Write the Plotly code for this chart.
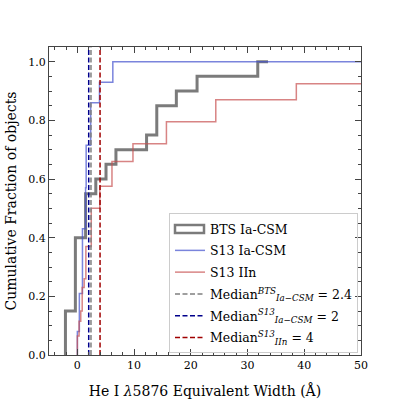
import plotly.graph_objects as go

# cumulative step curves (edge x, fraction reached at that edge)
bts_x = [-2.1, -2.1, -0.35, 1.45, 3.25, 5.05, 6.8, 12.2, 14.0, 17.45, 21.1, 31.8, 33.6]
bts_y = [0.0, 0.15, 0.40, 0.55, 0.60, 0.65, 0.70, 0.75, 0.85, 0.90, 0.95, 1.0, 1.0]

s13_ia_x = [0.0, 0.0, 0.35, 0.9, 1.45, 1.55, 2.35, 3.9, 6.25, 50.0]
s13_ia_y = [0.0, 0.08, 0.21, 0.43, 0.57, 0.715, 0.86, 0.93, 1.0, 1.0]

s13_iin_x = [0.0, 0.0, 0.3, 0.6, 0.85, 1.2, 1.5, 2.45, 3.95, 6.1, 9.8, 15.7, 24.4, 38.6, 50.0]
s13_iin_y = [0.0, 0.065, 0.115, 0.15, 0.23, 0.26, 0.37, 0.50, 0.575, 0.66, 0.72, 0.795, 0.87, 0.925, 0.925]

med_bts = 2.4
med_s13_ia = 2
med_s13_iin = 4

serif = "DejaVu Serif"
gray = "rgba(90,90,90,0.8)"

# plot area in pixels (used to place the legend and the BTS legend box)
L, R, T, B = 49, 361, 47, 355
def px(x): return (x - L) / (R - L)
def py(y): return (B - y) / (B - T)

fig = go.Figure()

fig.add_trace(go.Scatter(x=bts_x, y=bts_y, mode="lines", line_shape="hv",
                         line=dict(color=gray, width=3), showlegend=False))
# legend entry for BTS; its open-box icon is drawn as a shape below
fig.add_trace(go.Scatter(x=[None], y=[None], mode="lines", name="BTS Ia-CSM",
                         legendgroup="g0", line=dict(color="rgba(0,0,0,0)", width=1)))
fig.add_trace(go.Scatter(x=s13_ia_x, y=s13_ia_y, mode="lines", line_shape="hv",
                         line=dict(color="rgba(65,80,205,0.7)", width=1.5),
                         name="S13 Ia-CSM", legendgroup="g1"))
fig.add_trace(go.Scatter(x=s13_iin_x, y=s13_iin_y, mode="lines", line_shape="hv",
                         line=dict(color="rgba(200,80,80,0.7)", width=1.5),
                         name="S13 IIn", legendgroup="g2"))

medians = [
    (med_bts, "gray", f"Median<sup><i>BTS</i></sup><sub><i>Ia−CSM</i></sub> = {med_bts}"),
    (med_s13_ia, "#00008b", f"Median<sup><i>S13</i></sup><sub><i>Ia−CSM</i></sub> = {med_s13_ia}"),
    (med_s13_iin, "#a00000", f"Median<sup><i>S13</i></sup><sub><i>IIn</i></sub> = {med_s13_iin}"),
]
for i, (xm, col, label) in enumerate(medians):
    fig.add_trace(go.Scatter(x=[xm, xm], y=[0, 1.05], mode="lines",
                             line=dict(color=col, width=1.5, dash="5px,2.5px"),
                             name=label, legendgroup=f"g{i + 3}"))

axis_common = dict(showline=True, linecolor="#444", linewidth=1, mirror="allticks",
                   ticks="inside", ticklen=6, tickcolor="#444", showgrid=False,
                   zeroline=False, automargin=False,
                   tickfont=dict(family=serif, size=11, color="black"))

leg_left, leg_top = 169, 213
fig.add_shape(type="rect", xref="paper", yref="paper",
              x0=px(leg_left + 6), x1=px(leg_left + 35),
              y0=py(leg_top + 20), y1=py(leg_top + 12),
              line=dict(color=gray, width=2.5), fillcolor="rgba(0,0,0,0)")

fig.update_layout(
    width=399, height=399,
    margin=dict(l=L, r=399 - R, t=T, b=399 - B),
    plot_bgcolor="white", paper_bgcolor="white",
    font=dict(family=serif, color="black"),
    xaxis=dict(range=[-5, 50], tickvals=[0, 10, 20, 30, 40, 50],
               minor=dict(ticks="inside", dtick=2, tick0=0, ticklen=3, tickcolor="#444"),
               title=dict(text="He I <i>λ</i>5876 Equivalent Width (Å)",
                          font=dict(family=serif, size=14), standoff=16),
               **axis_common),
    yaxis=dict(range=[0, 1.05], tickvals=[0, 0.2, 0.4, 0.6, 0.8, 1.0], tickformat=".1f",
               minor=dict(ticks="inside", dtick=0.05, tick0=0, ticklen=3, tickcolor="#444"),
               title=dict(text="Cumulative Fraction of objects",
                          font=dict(family=serif, size=14), standoff=8),
               **axis_common),
    legend=dict(x=px(leg_left), y=py(leg_top), xanchor="left", yanchor="top",
                bgcolor="rgba(255,255,255,0)", bordercolor="#ccc", borderwidth=1,
                font=dict(family=serif, size=12.5), tracegroupgap=2.5, itemwidth=30),
)

# drop the browser's default body margin so the figure sits at the page corner
fig.write_html("out.html", config={"displayModeBar": False},
               post_script="document.body.style.margin='0';")
